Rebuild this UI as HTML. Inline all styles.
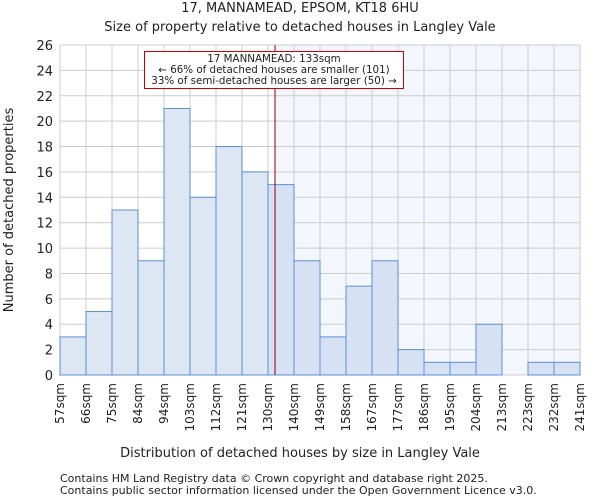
<!DOCTYPE html>
<html><head><meta charset="utf-8"><style>
body{margin:0;background:#fff;font-family:"DejaVu Sans","Liberation Sans",sans-serif}
text{font-family:"DejaVu Sans","Liberation Sans",sans-serif;fill:#222}
</style></head><body>
<svg id="c" width="600" height="500" xmlns="http://www.w3.org/2000/svg">
<text x="300" y="12" font-size="13" text-anchor="middle">17, MANNAMEAD, EPSOM, KT18 6HU</text>
<text x="300" y="31" font-size="13" text-anchor="middle">Size of property relative to detached houses in Langley Vale</text>
<g id="plot"></g>
<text x="300" y="457" font-size="13" text-anchor="middle">Distribution of detached houses by size in Langley Vale</text>
<text transform="translate(13,210) rotate(-90)" font-size="13" text-anchor="middle">Number of detached properties</text>
<text x="60" y="482" font-size="11">Contains HM Land Registry data © Crown copyright and database right 2025.</text>
<text x="60" y="494" font-size="11">Contains public sector information licensed under the Open Government Licence v3.0.</text>
</svg>
<script>
const binLabels=["57sqm","66sqm","75sqm","84sqm","94sqm","103sqm","112sqm","121sqm","130sqm","140sqm","149sqm","158sqm","167sqm","177sqm","186sqm","195sqm","204sqm","213sqm","223sqm","232sqm","241sqm"];
const counts=[3,5,13,9,21,14,18,16,15,9,3,7,9,2,1,1,4,0,1,1];
const yTicks=[0,2,4,6,8,10,12,14,16,18,20,22,24,26];
const markerIndex=8.27;
const NS="http://www.w3.org/2000/svg";
const L=60,R=580,T=45,B=375,yMax=26;
const bw=(R-L)/counts.length;
const xs=i=>L+i*bw;
const ys=v=>B-(v/yMax)*(B-T);
const g=document.getElementById('plot');
function mk(t,a){const e=document.createElementNS(NS,t);for(const k in a)e.setAttribute(k,a[k]);g.appendChild(e);return e;}
const mx=xs(markerIndex);
let e=mk('rect',{x:mx,y:T,width:R-mx,height:B-T,fill:'#f3f6fd'});


for(let i=0;i<binLabels.length;i++){
 e=mk('line',{x1:xs(i),x2:xs(i),y1:T,y2:B,stroke:'#ccc','stroke-width':1});
 
 
 e=mk('text',{transform:`translate(${xs(i)+4},${B+8}) rotate(-90)`,'font-size':12,'text-anchor':'end'});
 e.textContent=binLabels[i];
 
 
}
yTicks.forEach(v=>{
 e=mk('line',{x1:L,x2:R,y1:ys(v),y2:ys(v),stroke:'#ccc','stroke-width':1});
 
 
 e=mk('text',{x:L-7,y:ys(v)+5,'font-size':13,'text-anchor':'end'});
 e.textContent=v;
 
 
});
counts.forEach((c,i)=>{
 if(c<=0)return;
 e=mk('rect',{x:xs(i),y:ys(c),width:bw,height:B-ys(c),fill:i>=markerIndex-0.5?'#d6e2f4':'#dde6f3',stroke:'#5b8fd6','stroke-width':1});
 
 
});
e=mk('line',{x1:mx,x2:mx,y1:T,y2:B,stroke:'#900','stroke-width':1});


e=mk('rect',{x:144.5,y:51.5,width:259,height:37,fill:'#fff',stroke:'#c00','stroke-width':1});


["17 MANNAMEAD: 133sqm","← 66% of detached houses are smaller (101)","33% of semi-detached houses are larger (50) →"].forEach((t,k)=>{
 e=mk('text',{x:274,y:62+k*11,'font-size':10.3,'text-anchor':'middle'});
 e.textContent=t;
 
 
});
</script>
</body></html>
